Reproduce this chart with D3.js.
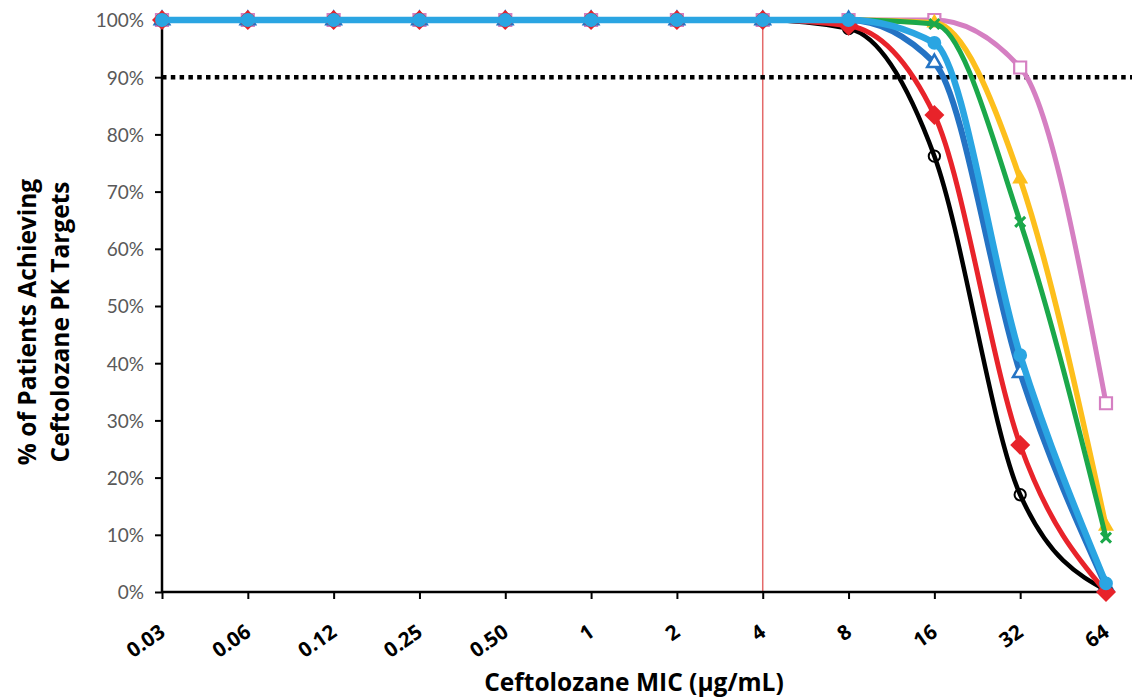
<!DOCTYPE html>
<html>
<head>
<meta charset="utf-8">
<script src="https://cdn.jsdelivr.net/npm/d3@7"></script>
<style>
  html, body { margin: 0; padding: 0; background: #fff; }
  svg { display: block; }
</style>
</head>
<body>
<svg id="chart" width="1134" height="698"></svg>
<script>
// MIC categories (µg/mL) on the x axis
const micLabels = ["0.03", "0.06", "0.12", "0.25", "0.50", "1", "2", "4", "8", "16", "32", "64"];
const yTicks = [0, 10, 20, 30, 40, 50, 60, 70, 80, 90, 100];

// % of patients achieving target, one array per regimen
const seriesBlack     = [100, 100, 100, 100, 100, 100, 100, 100, 98.5, 76.2, 17.0, 0.3];
const seriesRed       = [100, 100, 100, 100, 100, 100, 100, 100, 99.0, 83.4, 25.7, 0.0];
const seriesDarkBlue  = [100, 100, 100, 100, 100, 100, 100, 100, 100, 92.5, 38.3, 1.0];
const seriesLightBlue = [100, 100, 100, 100, 100, 100, 100, 100, 100, 96.0, 41.4, 1.5];
const seriesGreen     = [100, 100, 100, 100, 100, 100, 100, 100, 100, 99.3, 64.7, 9.5];
const seriesYellow    = [100, 100, 100, 100, 100, 100, 100, 100, 100, 99.5, 72.2, 11.5];
const seriesPink      = [100, 100, 100, 100, 100, 100, 100, 100, 100, 100, 91.7, 33.0];

const targetLine = 90;          // dotted reference level
const breakpoint = "4";         // vertical marker category

const series = [
  { values: seriesPink,      color: "#d57fc2", width: 5,   marker: "square" },
  { values: seriesYellow,    color: "#fdbf1c", width: 5.5, marker: "triangleFilled" },
  { values: seriesGreen,     color: "#1ba84a", width: 5,   marker: "cross" },
  { values: seriesDarkBlue,  color: "#2473c4", width: 6,   marker: "triangleOpen" },
  { values: seriesBlack,     color: "#000000", width: 4.5, marker: "circleOpen" },
  { values: seriesRed,       color: "#e8232a", width: 5,   marker: "diamond" },
  { values: seriesLightBlue, color: "#2aa5e2", width: 6.5, marker: "circleFilled" }
];

const svg = d3.select("#chart");
const plotLeft = 162, plotRight = 1106, plotTop = 20, plotBottom = 592;

const x = d3.scalePoint().domain(micLabels).range([plotLeft, plotRight]);
const y = d3.scaleLinear().domain([0, 100]).range([plotBottom, plotTop]);

const tickFont = "Lato, 'Open Sans', sans-serif";
const boldFont = "'Open Sans', Lato, sans-serif";

// vertical breakpoint line
svg.append("line")
  .attr("x1", x(breakpoint)).attr("x2", x(breakpoint))
  .attr("y1", y(100)).attr("y2", y(0))
  .attr("stroke", "#e46a6a").attr("stroke-width", 1.5);

// dotted target line
svg.append("line")
  .attr("x1", plotLeft).attr("x2", 1132)
  .attr("y1", y(targetLine)).attr("y2", y(targetLine))
  .attr("stroke", "#000").attr("stroke-width", 4.5)
  .attr("stroke-dasharray", "4.5 4.3");

// axes
const yAxis = d3.axisLeft(y).tickValues(yTicks).tickFormat(d => d + "%").tickSize(7).tickPadding(11);
const yG = svg.append("g").attr("transform", `translate(${plotLeft},0)`).call(yAxis);
yG.select(".domain").attr("stroke", "#000").attr("stroke-width", 2.5).attr("d", `M0,${plotTop}V${plotBottom}`);
yG.selectAll(".tick line").attr("stroke", "#000").attr("stroke-width", 2);
yG.selectAll(".tick text")
  .attr("font-family", tickFont).attr("font-size", 19).attr("fill", "#595959")
  .attr("dy", "0.36em");

const xAxis = d3.axisBottom(x).tickSize(7).tickFormat(d => d);
const xG = svg.append("g").attr("transform", `translate(0,${plotBottom})`).call(xAxis);
xG.select(".domain").attr("stroke", "#000").attr("stroke-width", 2.5).attr("d", `M${plotLeft},0H${plotRight + 2}`);
xG.selectAll(".tick line").attr("stroke", "#000").attr("stroke-width", 2);
xG.selectAll(".tick text")
  .attr("font-family", boldFont).attr("font-size", 20.5).attr("font-weight", "bold").attr("fill", "#000")
  .attr("text-anchor", "end")
  .attr("x", 0).attr("y", 0).attr("dy", 0)
  .attr("transform", "translate(4,43) rotate(-35)");

// curves
const line = d3.line()
  .x((d, i) => x(micLabels[i]))
  .y(d => y(d))
  .curve(d3.curveMonotoneX);

const sym = {
  circle: d3.symbol().type(d3.symbolCircle),
  triangle: d3.symbol().type(d3.symbolTriangle)
};

series.forEach(s => {
  svg.append("path")
    .attr("d", line(s.values))
    .attr("fill", "none")
    .attr("stroke", s.color)
    .attr("stroke-width", s.width)
    .attr("stroke-linejoin", "round")
    .attr("stroke-linecap", "round");

  const g = svg.append("g");
  s.values.forEach((v, i) => {
    const t = `translate(${x(micLabels[i])},${y(v)})`;
    let p;
    switch (s.marker) {
      case "circleOpen":
        p = g.append("path").attr("d", sym.circle.size(100)()).attr("fill", "none")
          .attr("stroke", s.color).attr("stroke-width", 2);
        break;
      case "circleFilled":
        p = g.append("path").attr("d", sym.circle.size(150)()).attr("fill", s.color);
        break;
      case "diamond":
        p = g.append("path").attr("d", "M0,-10L10,0L0,10L-10,0Z").attr("fill", s.color);
        break;
      case "triangleOpen":
        p = g.append("path").attr("d", sym.triangle.size(90)()).attr("fill", "#fff")
          .attr("stroke", s.color).attr("stroke-width", 2.5);
        break;
      case "triangleFilled":
        p = g.append("path").attr("d", sym.triangle.size(110)()).attr("fill", s.color);
        break;
      case "square":
        p = g.append("path").attr("d", "M-6,-6H6V6H-6Z").attr("fill", "#fff")
          .attr("stroke", s.color).attr("stroke-width", 2.2);
        break;
      case "cross":
        p = g.append("path").attr("d", "M-5,-5L5,5M5,-5L-5,5").attr("fill", "none")
          .attr("stroke", s.color).attr("stroke-width", 3);
        break;
    }
    p.attr("transform", t);
  });
});

// axis titles
svg.append("text")
  .attr("x", 634).attr("y", 691)
  .attr("text-anchor", "middle")
  .attr("font-family", boldFont).attr("font-weight", "bold").attr("font-size", 24.5)
  .text("Ceftolozane MIC (µg/mL)");

const yTitle = svg.append("text")
  .attr("transform", "translate(0,322) rotate(-90)")
  .attr("text-anchor", "middle")
  .attr("font-family", boldFont).attr("font-weight", "bold").attr("font-size", 24.5);
yTitle.append("tspan").attr("x", 0).attr("y", 36).text("% of Patients Achieving");
yTitle.append("tspan").attr("x", 0).attr("y", 69).text("Ceftolozane PK Targets");
</script>
</body>
</html>
